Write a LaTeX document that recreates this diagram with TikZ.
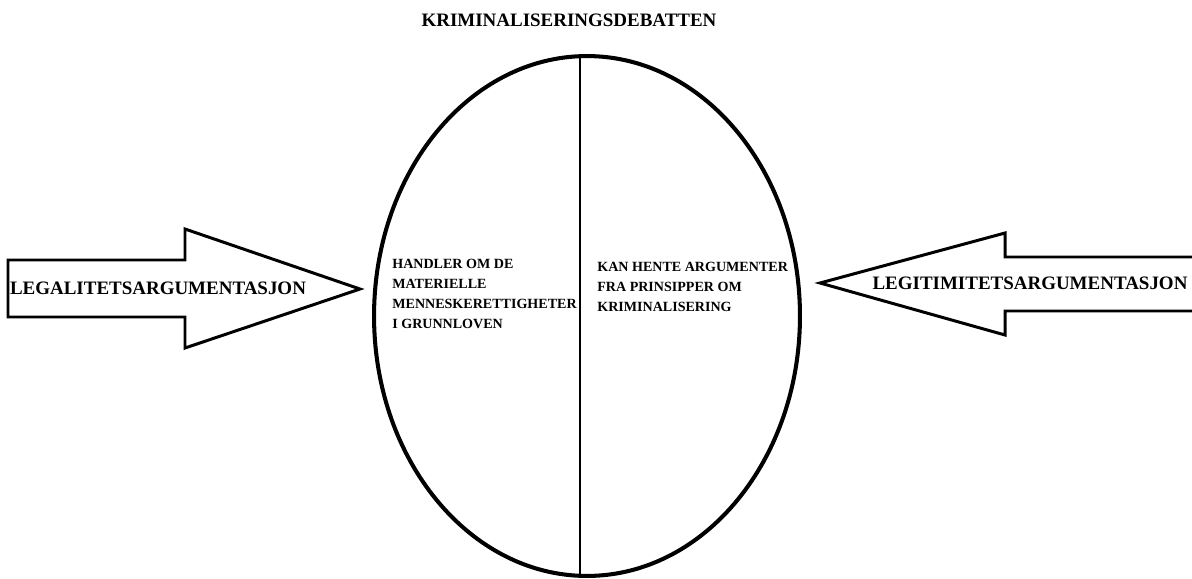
\documentclass[tikz,border=0pt]{standalone}
\usepackage{fontspec}
\setmainfont{Liberation Serif}
\usetikzlibrary{shapes.geometric,positioning}

\begin{document}
\begin{tikzpicture}[x=0.02cm,y=-0.02cm,
  lbl/.style={font=\fontsize{8}{11.3}\selectfont\bfseries,inner sep=0pt,align=left},
  biglbl/.style={font=\fontsize{10.8}{13}\selectfont\bfseries,inner sep=0pt},
  blockarrow/.style={draw,line width=1.7pt,line join=miter},
  debate/.style={draw,ellipse,line width=2.3pt,minimum width=8.52cm,minimum height=10.4cm}]
\useasboundingbox (0,0) rectangle (1192,578);

\node[debate](deb) at (587,316) {};
\draw[line width=0.6pt] ([xshift=-0.14cm]deb.north) -- ([xshift=-0.14cm]deb.south);
\node[biglbl](title) at (569,20) {KRIMINALISERINGSDEBATTEN};

\node[lbl,anchor=north west](legal) at (392,259) {HANDLER OM DE\\MATERIELLE\\MENNESKERETTIGHETER\\I GRUNNLOVEN};
\node[lbl,anchor=north west](legit) at (597,262) {KAN HENTE ARGUMENTER\\FRA PRINSIPPER OM\\KRIMINALISERING};

% left arrow
\draw[blockarrow] (8,260) -- (185,260) -- (185,229) -- (360,289) -- (185,348) -- (185,317) -- (8,317) -- cycle;
\node[biglbl](larg) at (158,288) {LEGALITETSARGUMENTASJON};

% right arrow
\draw[blockarrow] (1196,257) -- (1005,257) -- (1005,233) -- (820,283) -- (1005,335) -- (1005,311) -- (1196,311);
\node[biglbl](rarg) at (1030,283) {LEGITIMITETSARGUMENTASJON};

\end{tikzpicture}
\end{document}
